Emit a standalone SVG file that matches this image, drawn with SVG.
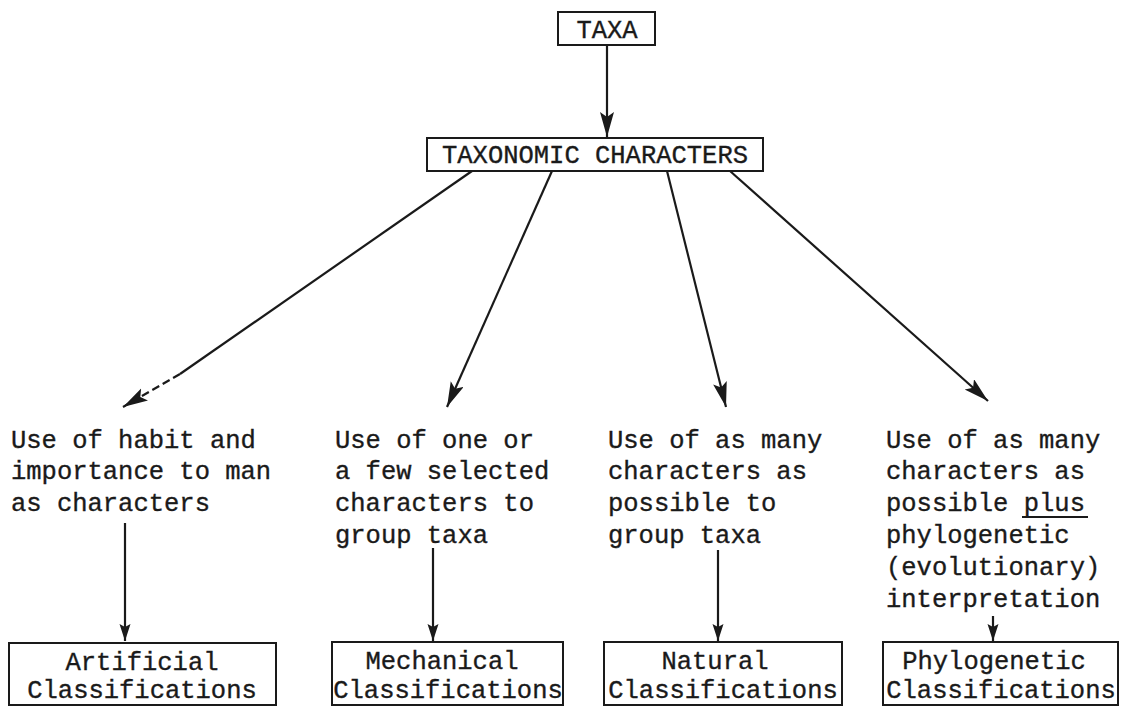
<svg xmlns="http://www.w3.org/2000/svg" width="1122" height="707" viewBox="0 0 1122 707">
<style>
text{font-family:"Liberation Mono","Courier New",monospace;font-size:25.5px;fill:#1a1a1a;stroke:#1a1a1a;stroke-width:0.35}
.box{fill:#fff;stroke:#1a1a1a;stroke-width:2}
.c{text-anchor:middle}
.ln{stroke:#1a1a1a;stroke-width:2.2;fill:none}
</style>
<defs>
<marker id="ah" markerUnits="userSpaceOnUse" markerWidth="30" markerHeight="16" refX="25" refY="7" orient="auto">
<path d="M0,0 L25,7 L0,14 L5,7 z" fill="#1a1a1a"/>
</marker>
<marker id="as" markerUnits="userSpaceOnUse" markerWidth="20" markerHeight="12" refX="17" refY="5.5" orient="auto">
<path d="M0,0 L17,5.5 L0,11 L3,5.5 z" fill="#1a1a1a"/>
</marker>
</defs>
<rect width="1122" height="707" fill="#fff"/>
<g id="connectors">
<line class="ln" x1="607" y1="45" x2="607" y2="137" marker-end="url(#ah)"/>
<line class="ln" x1="472" y1="171" x2="180" y2="374"/>
<line class="ln" x1="180" y1="374" x2="123" y2="407" stroke-dasharray="8,4" marker-end="url(#ah)"/>
<line class="ln" x1="552" y1="171" x2="447" y2="407" marker-end="url(#ah)"/>
<line class="ln" x1="667" y1="171" x2="726" y2="407" marker-end="url(#ah)"/>
<line class="ln" x1="730" y1="171" x2="988" y2="401" marker-end="url(#ah)"/>
<line class="ln" x1="125" y1="523" x2="125" y2="641" marker-end="url(#as)"/>
<line class="ln" x1="433" y1="548" x2="433" y2="641" marker-end="url(#as)"/>
<line class="ln" x1="718" y1="550" x2="718" y2="641" marker-end="url(#as)"/>
<line class="ln" x1="993" y1="616" x2="993" y2="641" marker-end="url(#as)"/>
</g>
<g id="taxa">
<rect class="box" x="558" y="12" width="97" height="33"/>
<text class="c" x="607" y="38">TAXA</text>
</g>
<g id="taxonomic-characters">
<rect class="box" x="427" y="138" width="336" height="33"/>
<text class="c" x="595" y="163">TAXONOMIC CHARACTERS</text>
</g>
<g id="desc-artificial">
<text x="11" y="448">Use of habit and</text>
<text x="11" y="479">importance to man</text>
<text x="11" y="511">as characters</text>
</g>
<g id="desc-mechanical">
<text x="335" y="448">Use of one or</text>
<text x="335" y="479">a few selected</text>
<text x="335" y="511">characters to</text>
<text x="335" y="543">group taxa</text>
</g>
<g id="desc-natural">
<text x="608" y="448">Use of as many</text>
<text x="608" y="479">characters as</text>
<text x="608" y="511">possible to</text>
<text x="608" y="543">group taxa</text>
</g>
<g id="desc-phylogenetic">
<text x="886" y="448">Use of as many</text>
<text x="886" y="479">characters as</text>
<text x="886" y="511">possible plus</text>
<line x1="1022" y1="517" x2="1088" y2="517" stroke="#1a1a1a" stroke-width="1.8"/>
<text x="886" y="543">phylogenetic</text>
<text x="886" y="575">(evolutionary)</text>
<text x="886" y="607">interpretation</text>
</g>
<g id="artificial">
<rect class="box" x="9" y="643" width="267" height="62"/>
<text class="c" x="142" y="670">Artificial</text>
<text class="c" x="142" y="698">Classifications</text>
</g>
<g id="mechanical">
<rect class="box" x="332" y="642" width="231" height="63"/>
<text class="c" x="442" y="669">Mechanical</text>
<text class="c" x="448" y="698">Classifications</text>
</g>
<g id="natural">
<rect class="box" x="604" y="642" width="238" height="63"/>
<text class="c" x="715" y="669">Natural</text>
<text class="c" x="723" y="698">Classifications</text>
</g>
<g id="phylogenetic">
<rect class="box" x="883" y="642" width="235" height="63"/>
<text class="c" x="994" y="669">Phylogenetic</text>
<text class="c" x="1001" y="698">Classifications</text>
</g>
</svg>
